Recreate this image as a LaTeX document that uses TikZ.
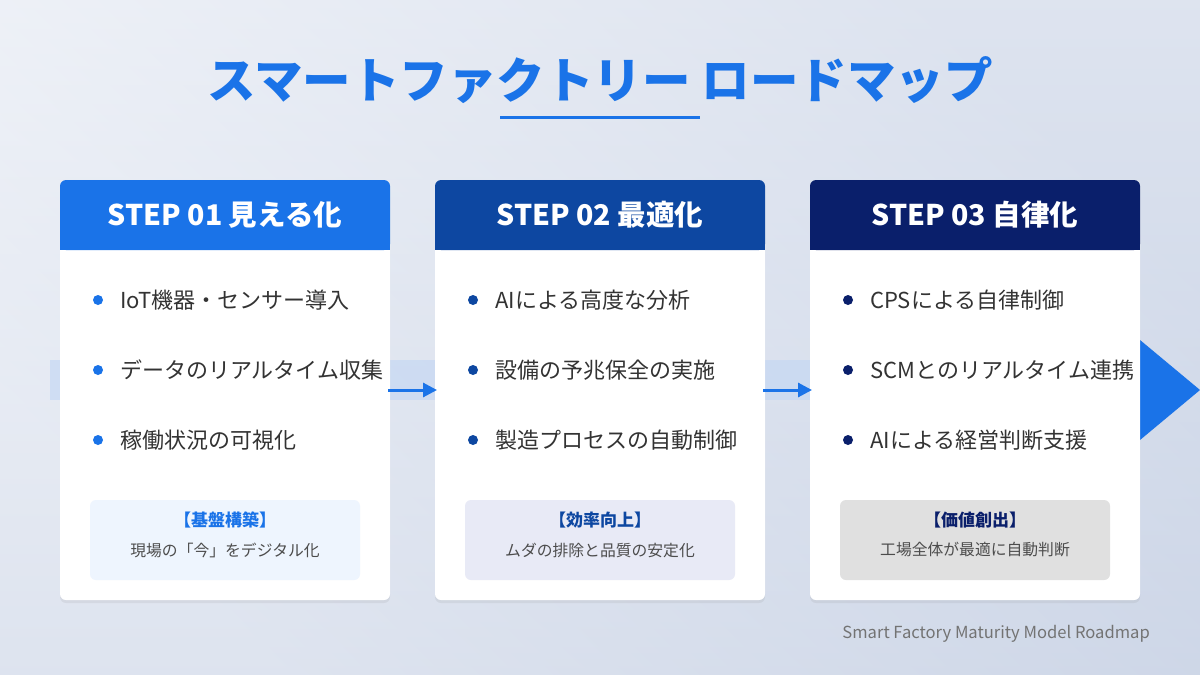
\documentclass[tikz,border=0pt]{standalone}
\usepackage{fontspec}
\setmainfont{Noto Sans CJK JP}
\usetikzlibrary{shadows,arrows.meta}
\definecolor{bgA}{HTML}{F4F6FA}\definecolor{bgB}{HTML}{C8D2E5}
\definecolor{c1}{HTML}{1A73E8}\definecolor{c2}{HTML}{0D47A1}\definecolor{c3}{HTML}{0A1F6B}
\definecolor{b1}{HTML}{EEF5FE}\definecolor{b2}{HTML}{E8EAF6}\definecolor{b3}{HTML}{E0E0E0}
\definecolor{txt}{HTML}{333333}\definecolor{band}{HTML}{C6D8F3}
\tikzset{
 card/.style={fill=white,rounded corners=6pt,drop shadow={opacity=0.12,shadow xshift=0pt,shadow yshift=-3pt}},
 head/.style={font=\bfseries\fontsize{28.5}{32}\selectfont,text=white},
 item/.style={anchor=west,font=\fontsize{22}{25}\selectfont,text=txt},
 sub/.style={font=\fontsize{15.8}{19}\selectfont,text=black!70},
 arr/.style={c1,line width=3pt,-{Triangle[length=14pt,width=14pt]}}
}
\begin{document}
\begin{tikzpicture}[x=1pt,y=-1pt]
\useasboundingbox (0,0) rectangle (1200,675);
\shade[left color=bgA,right color=bgB,shading angle=135] (0,0) rectangle (1200,675);
\shade[top color=bgA,bottom color=bgB,opacity=0.5] (0,0) rectangle (1200,675);
\node[font=\bfseries\fontsize{48.5}{54}\selectfont,text=c1] (title) at (600,80) {スマートファクトリー ロードマップ};
\draw[c1,line width=3pt] (500,117) -- (700,117);
\fill[band,opacity=0.7] (50,360) rectangle (440,400);
\fill[band,opacity=0.7] (765,360) rectangle (810,400);
\fill[c1] (1140,340) -- (1200,390) -- (1140,440) -- cycle;
\foreach \x/\c/\b/\hd/\ia/\ib/\ic/\bt/\bs/\n in {
 60/c1/b1/{STEP 01 見える化}/{IoT機器・センサー導入}/{データのリアルタイム収集}/{稼働状況の可視化}/{【基盤構築】}/{現場の「今」をデジタル化}/1,
 435/c2/b2/{STEP 02 最適化}/{AIによる高度な分析}/{設備の予兆保全の実施}/{製造プロセスの自動制御}/{【効率向上】}/{ムダの排除と品質の安定化}/2,
 810/c3/b3/{STEP 03 自律化}/{CPSによる自律制御}/{SCMとのリアルタイム連携}/{AIによる経営判断支援}/{【価値創出】}/{工場全体が最適に自動判断}/3}{
 \fill[card] (\x,180) rectangle ++(330,420);
 \fill[\c,rounded corners=6pt] (\x,180) rectangle ++(330,70);
 \fill[\c] (\x,230) rectangle ++(330,20);
 \node[head] (h\n) at (\x+165,215) {\hd};
 \foreach \y/\t in {300/\ia,370/\ib,440/\ic}{
  \fill[\c] (\x+38,\y) circle (5);
  \node[item,inner sep=0pt] at (\x+60,\y) {\t};
 }
 \fill[\b,rounded corners=6pt] (\x+30,500) rectangle ++(270,80);
 \node[font=\bfseries\fontsize{17}{20}\selectfont,text=\c] (bt\n) at (\x+165,520) {\bt};
 \node[sub] (bs\n) at (\x+165,550) {\bs};
}
\coordinate (a1) at (388,390); \coordinate (a2) at (437,390);
\coordinate (a3) at (763,390); \coordinate (a4) at (812,390);
\draw[arr] (a1) -- (a2);
\draw[arr] (a3) -- (a4);
\node[anchor=east,inner sep=0pt,font=\fontsize{16.6}{19}\selectfont,text=black!55] (foot) at (1150,634) {Smart Factory Maturity Model Roadmap};
\end{tikzpicture}
\end{document}
